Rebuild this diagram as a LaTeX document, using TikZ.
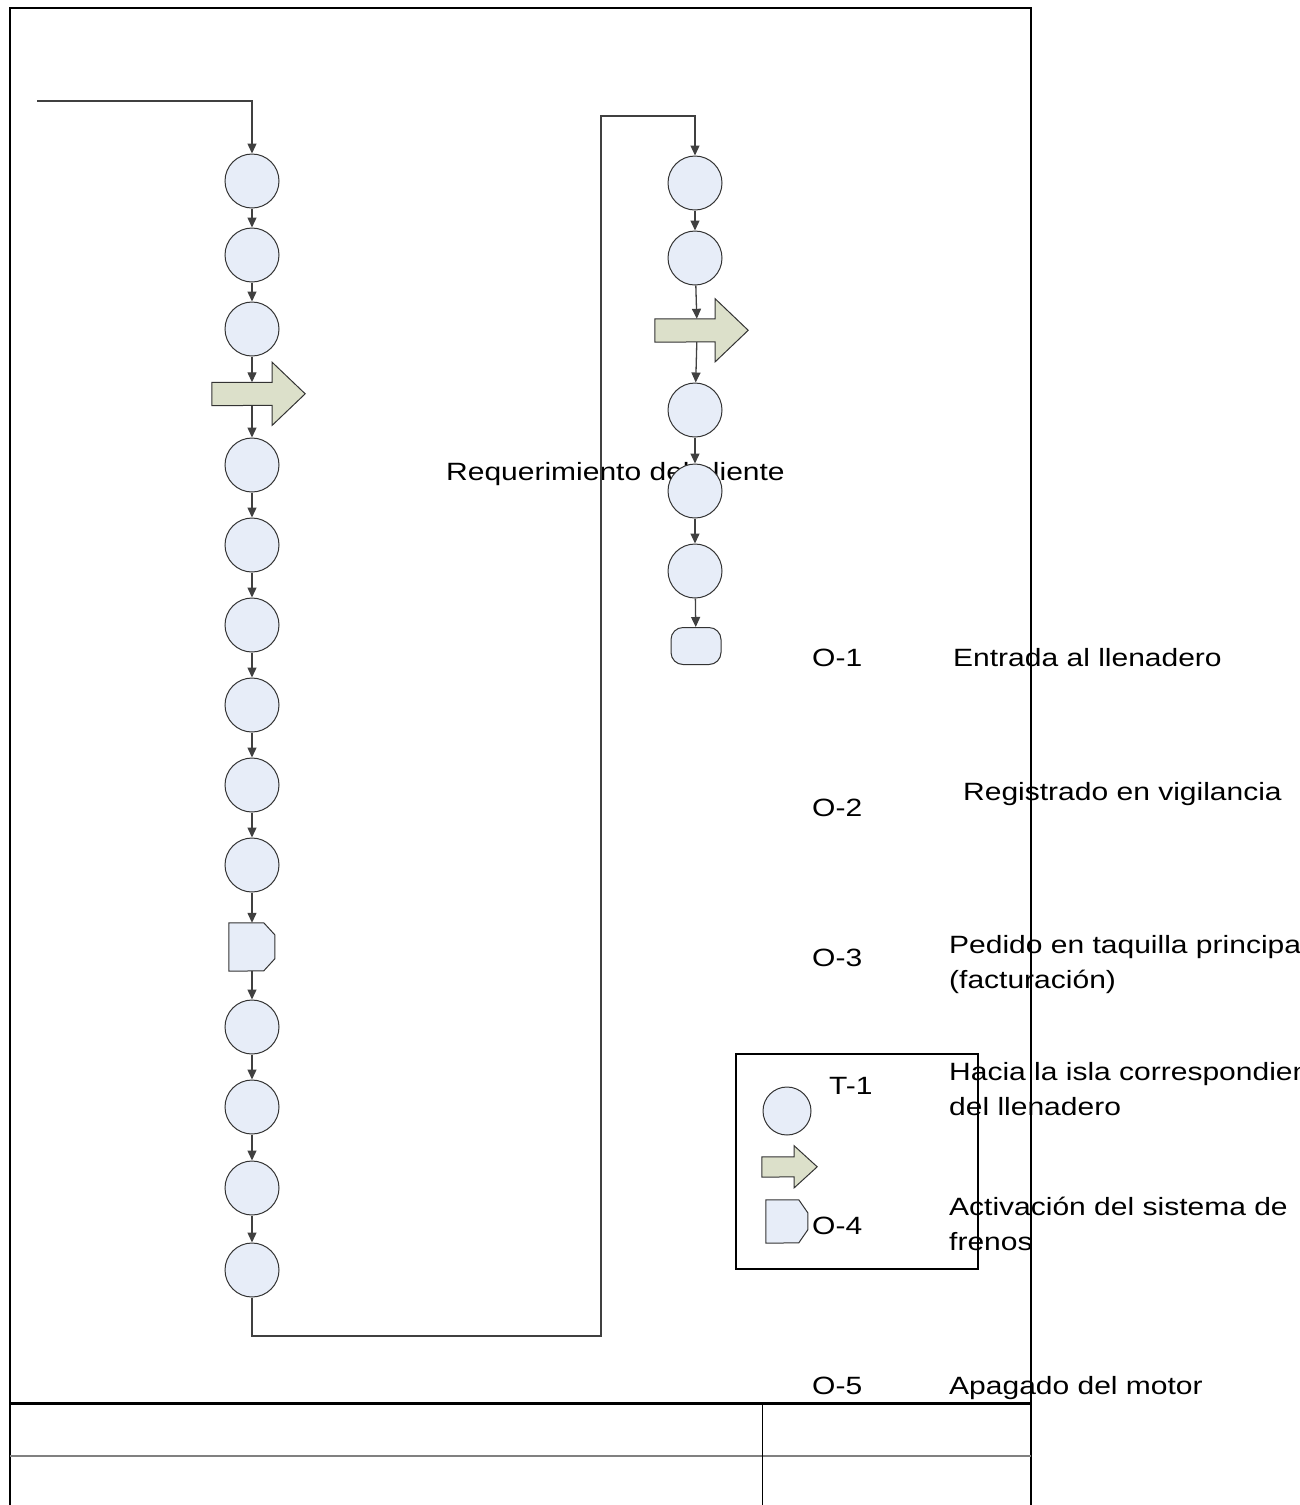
\documentclass[tikz,border=0pt]{standalone}
\usepackage{fontspec}
\setmainfont{Liberation Sans}[FakeStretch=1.2]
\usetikzlibrary{arrows.meta,positioning,calc}
\usepackage{xcolor}
\definecolor{ProcFill}{HTML}{E7EDF8}
\definecolor{MoveFill}{HTML}{DCE0CA}
\definecolor{ConnGray}{HTML}{404040}

% block arrow: name, body centre, body length, body height, head length, head half height
\newcommand{\flecha}[6]{%
  \node[abody, minimum width=#3, minimum height=#4] (#1) at (#2) {};
  \filldraw[afill] (#1.north west) -- (#1.north east) -- ++(0,{-(#6-#4/2)})
    -- ++(#5,#6) -- ++(-#5,#6) -- ++(0,{-(#6-#4/2)}) -- (#1.south west) -- cycle;}

\begin{document}
\begin{tikzpicture}[x=1pt, y=-1pt,
  font=\fontsize{25}{35}\selectfont,
  circ/.style={circle, draw=black!80, line width=1pt, fill=ProcFill, minimum size=54, inner sep=0},
  abody/.style={rectangle, inner sep=0, draw=none},
  afill/.style={fill=MoveFill, draw=black!80, line width=1pt},
  dfill/.style={fill=ProcFill, draw=black!80, line width=1pt},
  conn/.style={draw=ConnGray, line width=1.3pt, -{Triangle[length=10pt,width=9pt]}},
  txt/.style={anchor=base west, inner sep=0, align=left}]
  \useasboundingbox (0,0) rectangle (1299,1505);
  \clip (0,0) rectangle (1299,1505);

  % texts first, shapes and frame lie on top (two-line texts sit on their last line)
  \node[txt] (req) at (446,480) {Requerimiento del cliente};
  \node[txt] (o1) at (812,666) {O-1};  \node[txt] (o1t) at (953,666) {Entrada al llenadero};
  \node[txt] (o2) at (812,816) {O-2};  \node[txt] (o2t) at (963,800) {Registrado en vigilancia};
  \node[txt] (o3) at (812,966) {O-3};  \node[txt] (o3t) at (949,988) {Pedido en taquilla principal\\(facturación)};
  \node[txt] (t1) at (829,1094) {T-1}; \node[txt] (t1t) at (949,1115) {Hacia la isla correspondiente\\del llenadero};
  \node[txt] (o4) at (812,1234) {O-4}; \node[txt] (o4t) at (949,1250) {Activación del sistema de\\frenos};
  \node[txt] (o5) at (812,1394) {O-5}; \node[txt] (o5t) at (949,1394) {Apagado del motor};

  % left column
  \foreach \n/\y in {1/181,2/255,3/329,4/465,5/545,6/625,7/705,8/785,9/865,10/1027,11/1107,12/1188,13/1270}
    \node[circ] (c\n) at (252,\y) {};
  \flecha{arrL}{242,394}{60}{23}{33}{31.5}
  \node[abody, minimum width=46, minimum height=48] (dl) at (252,947) {};
  \filldraw[dfill] (dl.north west) -- ++(35,0) -- ++(11,12) -- ++(0,24) -- ++(-11,12) -- (dl.south west) -- cycle;

  % right column
  \foreach \n/\y in {1/183,2/258,3/410,4/491,5/571}
    \node[circ] (r\n) at (695,\y) {};
  \flecha{arrR}{685,330.5}{60}{23}{33}{31.5}
  \node[rectangle, rounded corners=12, draw=black!80, line width=1pt, fill=ProcFill,
        minimum width=50, minimum height=37, inner sep=0] (fin) at (696,646) {};

  % connectors
  \coordinate (ini) at (37,101);
  \draw[conn] (ini) -| (c1);
  \foreach \a/\b in {c1/c2,c2/c3,c4/c5,c5/c6,c6/c7,c7/c8,c8/c9,c10/c11,c11/c12,c12/c13}
    \draw[conn] (\a) -- (\b);
  \draw[conn] (c3) -- (c3 |- arrL.north);
  \draw[conn] (c3 |- arrL.south) -- (c4);
  \draw[conn] (c9) -- (dl);
  \draw[conn] (dl) -- (c10);
  \coordinate (b1) at (601,1336);
  \coordinate (b2) at (601,116);
  \draw[conn] (c13) |- (b1) -- (b2) -| (r1);
  \draw[conn] (r1) -- (r2);
  \draw[conn] (r2) -- ([xshift=42pt]arrR.north west);
  \draw[conn] ([xshift=42pt]arrR.south west) -- (r3);
  \draw[conn] (r3) -- (r4);
  \draw[conn] (r4) -- (r5);
  \draw[conn] (r5) -- (fin);

  % legend
  \draw[line width=1.5pt] (736,1054) rectangle (978,1269);
  \node[circ, minimum size=48] (lc) at (787,1111) {};
  \flecha{lf}{778,1167}{32}{20}{23}{21}
  \node[abody, minimum width=42, minimum height=43] (ld) at (787,1221.5) {};
  \filldraw[dfill] (ld.north west) -- ++(33,0) -- ++(9,13) -- ++(0,17) -- ++(-9,13) -- (ld.south west) -- cycle;

  % frame and title block
  \draw[line width=2pt] (10,1505) |- (1031,8) -- (1031,1505);
  \draw[line width=3pt] (10,1403) -- (1031,1403);
  \draw[gray, line width=1.5pt] (10,1456) -- (1031,1456);
  \draw[line width=1pt] (762,1403) -- (762,1505);
\end{tikzpicture}
\end{document}
